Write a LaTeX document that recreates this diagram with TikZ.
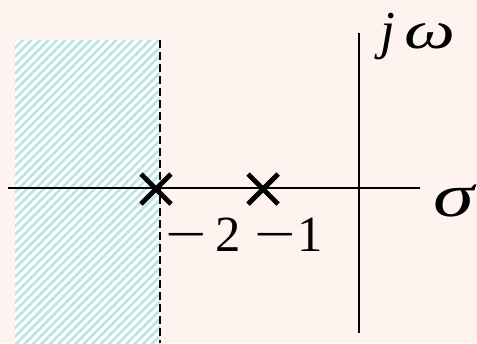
\documentclass[tikz,border=0pt]{standalone}
\usepackage{fontspec}
\setmainfont{Liberation Serif}
\usetikzlibrary{patterns.meta,calc}
\definecolor{bgpink}{HTML}{FEF3EE}
\definecolor{hatchc}{HTML}{BBE4E4}
\tikzset{
  axisline/.style={line width=1.5pt, black},
  polemark/.style={line width=3.7pt, black},
  numlabel/.style={font=\fontsize{38}{42}\selectfont, inner sep=0pt, anchor=base west},
}
\newcommand{\longminus}{\scalebox{1.45}[1]{−}}
\begin{document}
\begin{tikzpicture}[x=0.75pt,y=-0.75pt]
\useasboundingbox (0,0) rectangle (477,343);
\fill[bgpink] (0,0) rectangle (477,343);
% hatched stable region
\fill[white] (15,40) rectangle (160,343);
\fill[pattern={Lines[angle=45,distance=4.5pt,line width=2pt]}, pattern color=hatchc] (15,40) rectangle (160,343);
\draw[line width=1.4pt, dash pattern=on 6pt off 3pt] (160,40) -- (160,343);
% axes
\coordinate (xl) at (8,188);
\coordinate (xr) at (420,188);
\coordinate (yt) at (359,33);
\coordinate (yb) at (359,333);
\draw[axisline] (xl) -- (xr);
\draw[axisline] (yt) -- (yb);
% poles
\coordinate (p2) at (156,189);
\coordinate (p1) at (263,189);
\foreach \p in {p1,p2}{
  \draw[polemark] ($(\p)+(-15,-15)$) -- ($(\p)+(15,15)$);
  \draw[polemark] ($(\p)+(-15,15)$) -- ($(\p)+(15,-15)$);
}
% labels
\node[numlabel] (l2) at (165,251) {\longminus\,2};
\node[numlabel] (l1) at (254,251) {\longminus\hspace{1pt}1};
\node[font=\fontsize{46}{50}\selectfont\itshape, inner sep=0pt, anchor=base west] (sig) at (433,216) {\scalebox{1.35}[1]{σ}};
\node[font=\fontsize{40}{44}\selectfont\itshape, inner sep=0pt, anchor=base west] (jw) at (380,48) {j\hspace{7pt}\scalebox{1.35}[1]{ω}};
\end{tikzpicture}
\end{document}
